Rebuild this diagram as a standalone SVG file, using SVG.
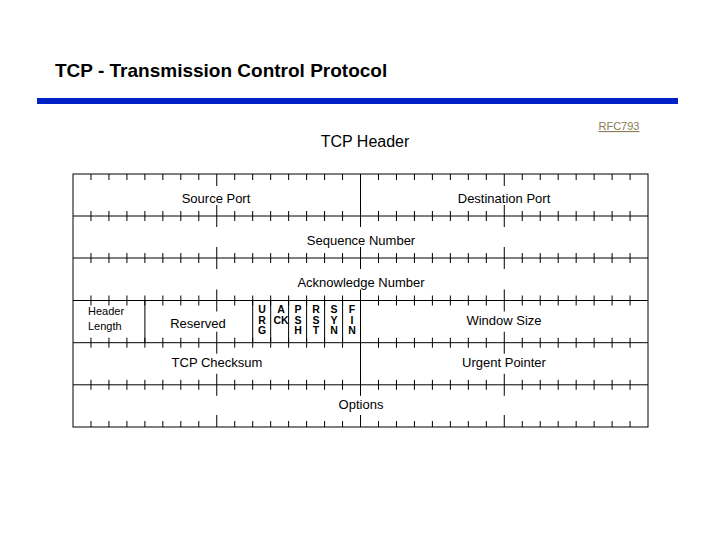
<svg xmlns="http://www.w3.org/2000/svg" xmlns:xlink="http://www.w3.org/1999/xlink" width="720" height="540" viewBox="0 0 720 540">
<style>
.t{font-family:"Liberation Sans",Arial,sans-serif;font-size:13px;fill:#000;text-anchor:middle}
.s{font-size:11px}
.l{stroke:#000;stroke-width:1;fill:none}
</style>
<defs>
<path id="mid" class="l" d="M90.97 -5v10M108.94 -5v10M126.91 -5v10M144.88 -5v10M162.85 -5v10M180.82 -5v10M198.79 -5v10M216.76 -11v22M234.73 -5v10M252.7 -5v10M270.67 -5v10M288.64 -5v10M306.61 -5v10M324.58 -5v10M342.55 -5v10M360.52 -11v22M378.49 -5v10M396.46 -5v10M414.43 -5v10M432.4 -5v10M450.37 -5v10M468.34 -5v10M486.31 -5v10M504.28 -11v22M522.25 -5v10M540.22 -5v10M558.19 -5v10M576.16 -5v10M594.13 -5v10M612.1 -5v10M630.07 -5v10"/>
<path id="edge" class="l" d="M90.97 0v6M108.94 0v6M126.91 0v6M144.88 0v6M162.85 0v6M180.82 0v6M198.79 0v6M216.76 0v12M234.73 0v6M252.7 0v6M270.67 0v6M288.64 0v6M306.61 0v6M324.58 0v6M342.55 0v6M360.52 0v12M378.49 0v6M396.46 0v6M414.43 0v6M432.4 0v6M450.37 0v6M468.34 0v6M486.31 0v6M504.28 0v12M522.25 0v6M540.22 0v6M558.19 0v6M576.16 0v6M594.13 0v6M612.1 0v6M630.07 0v6"/>
</defs>
<text x="55" y="77" style="font-family:'Liberation Sans',Arial,sans-serif;font-size:19px;font-weight:bold">TCP - Transmission Control Protocol</text>
<rect x="37" y="98" width="641" height="6" fill="#0020c8"/>
<text x="619" y="130" style="font-family:'Liberation Sans',Arial,sans-serif;font-size:11px;fill:#8a7a50;text-anchor:middle;text-decoration:underline">RFC793</text>
<text x="365" y="147" class="t" style="font-size:16px">TCP Header</text>
<g id="connectors">
<rect x="73" y="174" width="575" height="253" class="l"/>
<use xlink:href="#edge" y="174"/>
<use xlink:href="#edge" transform="translate(0,427) scale(1,-1)"/>
<path class="l" d="M73 216H648M73 258H648M73 300.5H648M73 342.7H648M73 384.8H648"/>
<use xlink:href="#mid" y="216"/>
<use xlink:href="#mid" y="258"/>
<use xlink:href="#mid" y="300.5"/>
<use xlink:href="#mid" y="342.7"/>
<use xlink:href="#mid" y="384.8"/>
<path class="l" d="M360.5 174V216M144.9 300.5V342.7M252.7 300.5V342.7M270.7 300.5V342.7M288.6 300.5V342.7M306.6 300.5V342.7M324.6 300.5V342.7M342.6 300.5V342.7M360.5 300.5V384.8"/>
</g>
<g id="source-port"><text x="216" y="203" class="t">Source Port</text></g>
<g id="dest-port"><text x="504" y="203" class="t">Destination Port</text></g>
<g id="seq"><text x="361" y="245" class="t">Sequence Number</text></g>
<g id="ack"><text x="361" y="287" class="t">Acknowledge Number</text></g>
<g id="hlen"><text x="88" y="315" class="t s" style="text-anchor:start">Header</text><text x="88" y="330" class="t s" style="text-anchor:start">Length</text></g>
<g id="reserved"><text x="198" y="328" class="t">Reserved</text></g>
<g id="flags" class="t" style="font-weight:bold;font-size:10.5px">
<text x="262" y="313">U</text><text x="262" y="323.5">R</text><text x="262" y="334">G</text>
<text x="281" y="313">A</text><text x="281" y="323.5">CK</text>
<text x="298" y="313">P</text><text x="298" y="323.5">S</text><text x="298" y="334">H</text>
<text x="316" y="313">R</text><text x="316" y="323.5">S</text><text x="316" y="334">T</text>
<text x="334" y="313">S</text><text x="334" y="323.5">Y</text><text x="334" y="334">N</text>
<text x="352" y="313">F</text><text x="352" y="323.5">I</text><text x="352" y="334">N</text>
</g>
<g id="window"><text x="504" y="325" class="t">Window Size</text></g>
<g id="checksum"><text x="217" y="367" class="t">TCP Checksum</text></g>
<g id="urgent"><text x="504" y="367" class="t">Urgent Pointer</text></g>
<g id="options"><text x="361" y="409" class="t">Options</text></g>
</svg>
